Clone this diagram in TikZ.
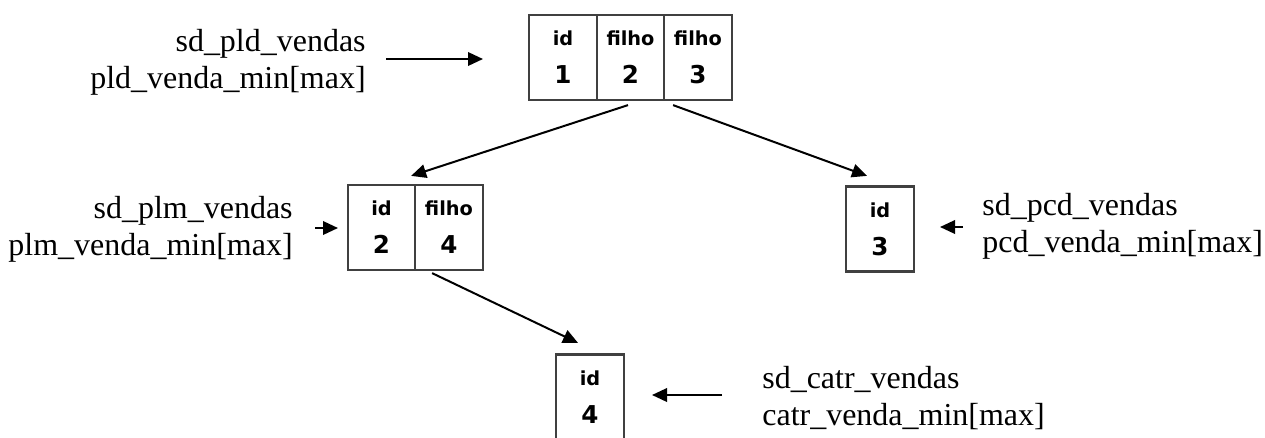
\documentclass[tikz,border=0pt]{standalone}
\usepackage{fontspec}
\setmainfont{Liberation Serif}
\newfontfamily\cellfont{DejaVu Sans}
\usetikzlibrary{shapes,arrows.meta,positioning}
\tikzstyle{cell} = [rectangle, draw=black!75, line width=0.045cm,
    minimum width=1.35cm, minimum height=1.7cm, inner sep=0pt, align=center,
    font=\cellfont\bfseries\fontsize{11}{21.6}\selectfont]
\tikzstyle{note} = [inner sep=0pt, font=\fontsize{18.2}{21}\selectfont]
\tikzstyle{line} = [draw, line width=0.04cm, -{Triangle[length=0.3cm,width=0.27cm]}]
\newcommand{\celltext}[2]{#1\\{\fontsize{14}{21.6}\selectfont #2}}

\begin{document}
\begin{tikzpicture}[x=0.02cm, y=-0.02cm, node distance=1.35cm]
    \useasboundingbox (0,0) rectangle (1265,437);
    % Place nodes
    \node [cell] (pld) at (563,57.5) {\celltext{id}{1}};
    \node [cell, right of=pld] (pldf1) {\celltext{filho}{2}};
    \node [cell, right of=pldf1] (pldf2) {\celltext{filho}{3}};
    \node [cell] (plm) at (381.5,227.5) {\celltext{id}{2}};
    \node [cell, right of=plm] (plmf1) {\celltext{filho}{4}};
    \node [cell] (pcd) at (880,229) {\celltext{id}{3}};
    \node [cell] (catr) at (590,397) {\celltext{id}{4}};
    % Labels
    \node [note, align=right, anchor=east] (lpld) at (366,62) {sd\_pld\_vendas\\pld\_venda\_min[max]};
    \node [note, align=right, anchor=east] (lplm) at (293,229) {sd\_plm\_vendas\\plm\_venda\_min[max]};
    \node [note, align=left, anchor=west] (lpcd) at (982,226) {sd\_pcd\_vendas\\pcd\_venda\_min[max]};
    \node [note, align=left, anchor=west] (lcatr) at (762,398) {sd\_catr\_vendas\\catr\_venda\_min[max]};
    % Arrow ends
    \coordinate (t1) at ([xshift=-0.05cm,yshift=-0.08cm]pldf1.south);
    \coordinate (t1e) at ([xshift=-0.06cm,yshift=0.16cm]plmf1.north west);
    \coordinate (t2) at ([xshift=0.2cm,yshift=-0.08cm]pldf2.south west);
    \coordinate (t2e) at ([xshift=-0.26cm,yshift=0.19cm]pcd.north);
    \coordinate (t3) at ([xshift=0.36cm,yshift=-0.04cm]plmf1.south west);
    \coordinate (t3e) at ([xshift=-0.24cm,yshift=0.21cm]catr.north);
    \coordinate (s1) at (386,59);
    \coordinate (s1e) at (483,59);
    \coordinate (s2) at (315,228);
    \coordinate (s2e) at (338,228);
    \coordinate (s3) at (963,227);
    \coordinate (s3e) at (940,227);
    \coordinate (s4) at (722,395);
    \coordinate (s4e) at (652,395);
    % Arrows
    \path [line] (t1) -- (t1e);
    \path [line] (t2) -- (t2e);
    \path [line] (t3) -- (t3e);
    \path [line] (s1) -- (s1e);
    \path [line] (s2) -- (s2e);
    \path [line] (s3) -- (s3e);
    \path [line] (s4) -- (s4e);
\end{tikzpicture}
\end{document}
